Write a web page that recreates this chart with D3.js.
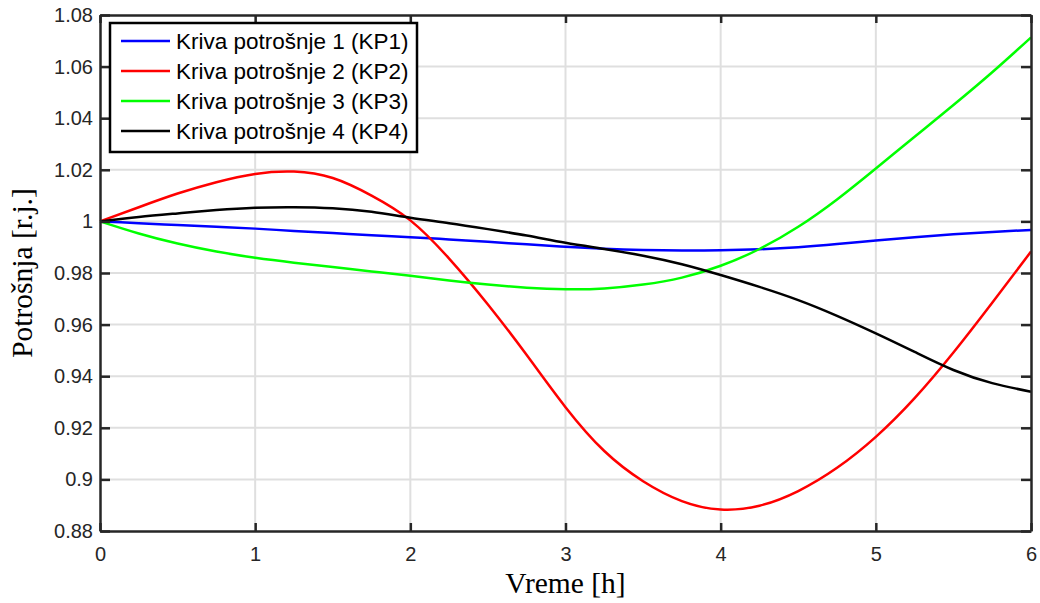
<!DOCTYPE html>
<html>
<head>
<meta charset="utf-8">
<script src="https://cdn.jsdelivr.net/npm/d3@7"></script>
<style>
    html, body { margin: 0; padding: 0; background: #fff; }
    svg { display: block; }
    .tick-label { font-family: Arial, "Liberation Sans", sans-serif; font-size: 20px; fill: #262626; }
    .axis-title { font-family: "Times New Roman", "Liberation Serif", serif; font-size: 29.5px; fill: #000; }
    .legend-text { font-family: Arial, "Liberation Sans", sans-serif; font-size: 22.5px; fill: #000; }
</style>
</head>
<body>
<svg id="chart"></svg>
<script>
// time axis, hours
const hours = [0, 0.25, 0.5, 0.75, 1, 1.25, 1.5, 1.75, 2, 2.25, 2.5, 2.75, 3,
    3.25, 3.5, 3.75, 4, 4.25, 4.5, 4.75, 5, 5.25, 5.5, 5.75, 6];

const kp1 = [1.0, 0.9993, 0.9986, 0.9979, 0.9972, 0.9963, 0.9955, 0.9946, 0.9939, 0.9930, 0.9921, 0.9911, 0.9902,
    0.9894, 0.9889, 0.9887, 0.9888, 0.9892, 0.9900, 0.9912, 0.9926, 0.9939, 0.9950, 0.9959, 0.9967];
const kp2 = [1.0, 1.0055, 1.0108, 1.0152, 1.0184, 1.0193, 1.0168, 1.0100, 1.0004, 0.9856, 0.9678, 0.9482, 0.9280,
    0.9110, 0.8993, 0.8916, 0.8883, 0.8898, 0.8955, 0.9045, 0.9165, 0.9315, 0.9492, 0.9685, 0.9883];
const kp3 = [1.0, 0.9953, 0.9914, 0.9883, 0.9859, 0.9840, 0.9823, 0.9806, 0.9789, 0.9771, 0.9755, 0.9743, 0.9737,
    0.9740, 0.9755, 0.9782, 0.9828, 0.9893, 0.9979, 1.0085, 1.0205, 1.0328, 1.0451, 1.0578, 1.0713];
const kp4 = [1.0, 1.0017, 1.0031, 1.0044, 1.0053, 1.0055, 1.0051, 1.0037, 1.0014, 0.9993, 0.9970, 0.9945, 0.9917,
    0.9893, 0.9867, 0.9834, 0.9792, 0.9746, 0.9695, 0.9634, 0.9566, 0.9494, 0.9424, 0.9373, 0.9340];

const seriesNames = ["Kriva potrošnje 1 (KP1)", "Kriva potrošnje 2 (KP2)", "Kriva potrošnje 3 (KP3)", "Kriva potrošnje 4 (KP4)"];
const seriesColors = ["#0000ff", "#ff0000", "#00ff00", "#000000"];

const xTicks = [0, 1, 2, 3, 4, 5, 6];
const yTicks = [0.88, 0.9, 0.92, 0.94, 0.96, 0.98, 1, 1.02, 1.04, 1.06, 1.08];

const width = 1040, height = 603;
const margin = { left: 100, right: 9, top: 15, bottom: 72 };
const innerW = width - margin.left - margin.right;
const innerH = height - margin.top - margin.bottom;

const svg = d3.select("#chart").attr("width", width).attr("height", height);
const g = svg.append("g").attr("transform", `translate(${margin.left},${margin.top})`);

const x = d3.scaleLinear().domain([0, 6]).range([0, innerW]);
const y = d3.scaleLinear().domain([0.88, 1.08]).range([innerH, 0]);

// grid
const gridColor = "#dfdfdf";
g.append("g").selectAll("line").data(xTicks.slice(1, -1)).enter().append("line")
    .attr("x1", d => x(d)).attr("x2", d => x(d)).attr("y1", 0).attr("y2", innerH)
    .attr("stroke", gridColor).attr("stroke-width", 2);
g.append("g").selectAll("line").data(yTicks.slice(1, -1)).enter().append("line")
    .attr("y1", d => y(d)).attr("y2", d => y(d)).attr("x1", 0).attr("x2", innerW)
    .attr("stroke", gridColor).attr("stroke-width", 2);

// curves
const series = [kp1, kp2, kp3, kp4];
const line = d3.line()
    .x((d, i) => x(hours[i]))
    .y(d => y(d))
    .curve(d3.curveNatural);

series.forEach((vals, k) => {
    g.append("path")
        .datum(vals)
        .attr("fill", "none")
        .attr("stroke", seriesColors[k])
        .attr("stroke-width", 2.5)
        .attr("stroke-linejoin", "round")
        .attr("d", line);
});

// axes: MATLAB-style box with inward ticks on all sides
const axisColor = "#262626";
const bottomAxis = d3.axisBottom(x).tickValues(xTicks).tickFormat(d3.format("d")).tickSizeInner(-8).tickSizeOuter(0).tickPadding(15.5);
const leftAxis = d3.axisLeft(y).tickValues(yTicks).tickFormat(d => String(+d.toFixed(2))).tickSizeInner(-10).tickSizeOuter(0).tickPadding(7);
const topAxis = d3.axisTop(x).tickValues(xTicks).tickFormat("").tickSizeInner(-8).tickSizeOuter(0);
const rightAxis = d3.axisRight(y).tickValues(yTicks).tickFormat("").tickSizeInner(-10).tickSizeOuter(0);

function styleAxis(sel) {
    sel.select(".domain").attr("stroke", axisColor).attr("stroke-width", 2.5);
    sel.selectAll(".tick line").attr("stroke", axisColor).attr("stroke-width", 2.5);
    sel.selectAll(".tick text").attr("class", "tick-label").attr("font-size", null).attr("font-family", null).attr("fill", null);
}

g.append("g").attr("transform", `translate(0,${innerH})`).call(bottomAxis).call(styleAxis);
g.append("g").call(leftAxis).call(styleAxis);
g.append("g").call(topAxis).call(styleAxis);
g.append("g").attr("transform", `translate(${innerW},0)`).call(rightAxis).call(styleAxis);

// axis titles
svg.append("text").attr("class", "axis-title")
    .attr("x", margin.left + innerW / 2).attr("y", 593)
    .attr("text-anchor", "middle").text("Vreme [h]");
svg.append("text").attr("class", "axis-title")
    .attr("transform", `translate(31.5,${margin.top + innerH / 2}) rotate(-90)`)
    .attr("text-anchor", "middle").text("Potrošnja [r.j.]");

// legend
const legend = svg.append("g").attr("transform", "translate(110,23)");
legend.append("rect")
    .attr("width", 307).attr("height", 129)
    .attr("fill", "#fff").attr("stroke", "#000").attr("stroke-width", 2.5);
const rowY = d3.scalePoint().domain(seriesNames).range([18, 108]);
seriesNames.forEach((name, k) => {
    const ry = rowY(name);
    legend.append("line")
        .attr("x1", 11).attr("x2", 60).attr("y1", ry).attr("y2", ry)
        .attr("stroke", seriesColors[k]).attr("stroke-width", 2.5);
    legend.append("text").attr("class", "legend-text")
        .attr("x", 66).attr("y", ry).attr("dy", "0.36em").text(name);
});
</script>
</body>
</html>
